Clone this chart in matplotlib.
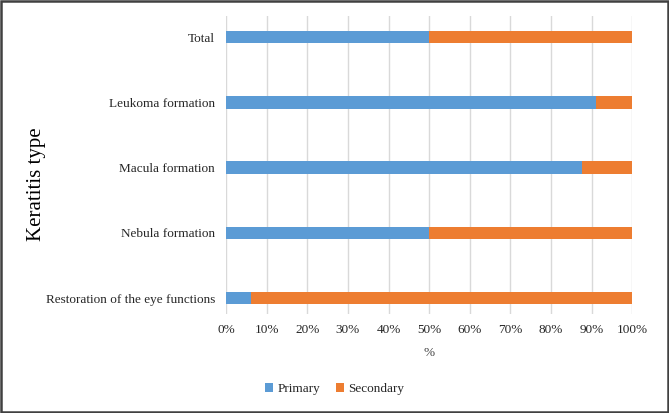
import matplotlib.pyplot as plt
from matplotlib.patches import Rectangle
from matplotlib.ticker import PercentFormatter

# Datos (de abajo hacia arriba)
categorias = ['Restoration of the eye functions', 'Nebula formation',
              'Macula formation', 'Leukoma formation', 'Total']
primary = [6.2, 50.0, 87.7, 91.0, 50.0]
secondary = [93.8, 50.0, 12.3, 9.0, 50.0]

plt.rcParams['font.family'] = ['Liberation Serif', 'DejaVu Serif']

fig = plt.figure(figsize=(6.69, 4.13), dpi=100)
ax = fig.add_axes([0.338, 0.240, 0.607, 0.721])

y = range(len(categorias))
ax.barh(y, primary, height=0.19, color='#5B9BD5', label='Primary', zorder=3)
ax.barh(y, secondary, left=primary, height=0.19, color='#ED7D31',
        label='Secondary', zorder=3)

ax.set_xlim(0, 100)
ax.set_ylim(-0.24, 4.32)
ax.set_xticks(range(0, 101, 10))
ax.xaxis.set_major_formatter(PercentFormatter(decimals=0))
ax.set_yticks(list(y))
ax.set_yticklabels(categorias)

ax.grid(axis='x', color='#D9D9D9', linewidth=1, zorder=0)
for s in ax.spines.values():
    s.set_visible(False)
ax.tick_params(axis='both', length=0, labelsize=9.5, colors='#262626')
ax.tick_params(axis='x', pad=7)
ax.tick_params(axis='y', pad=8)

ax.set_xlabel('%', fontsize=9.5, color='#404040', labelpad=8)
fig.text(0.055, 0.555, 'Keratitis type', rotation=90, fontsize=15,
         va='center', ha='center', color='black')

fig.legend(loc='center', bbox_to_anchor=(0.5, 0.058), ncol=2, frameon=False,
           fontsize=9.5, handlelength=0.6, handleheight=0.6,
           handletextpad=0.3, columnspacing=1.2, labelcolor='#262626')

# Marco de la figura
fig.patches.append(Rectangle((0.002, 0.003), 0.996, 0.994, transform=fig.transFigure,
                             fill=False, edgecolor='#404040', linewidth=1.8))

fig.savefig('out.png', dpi=100)
